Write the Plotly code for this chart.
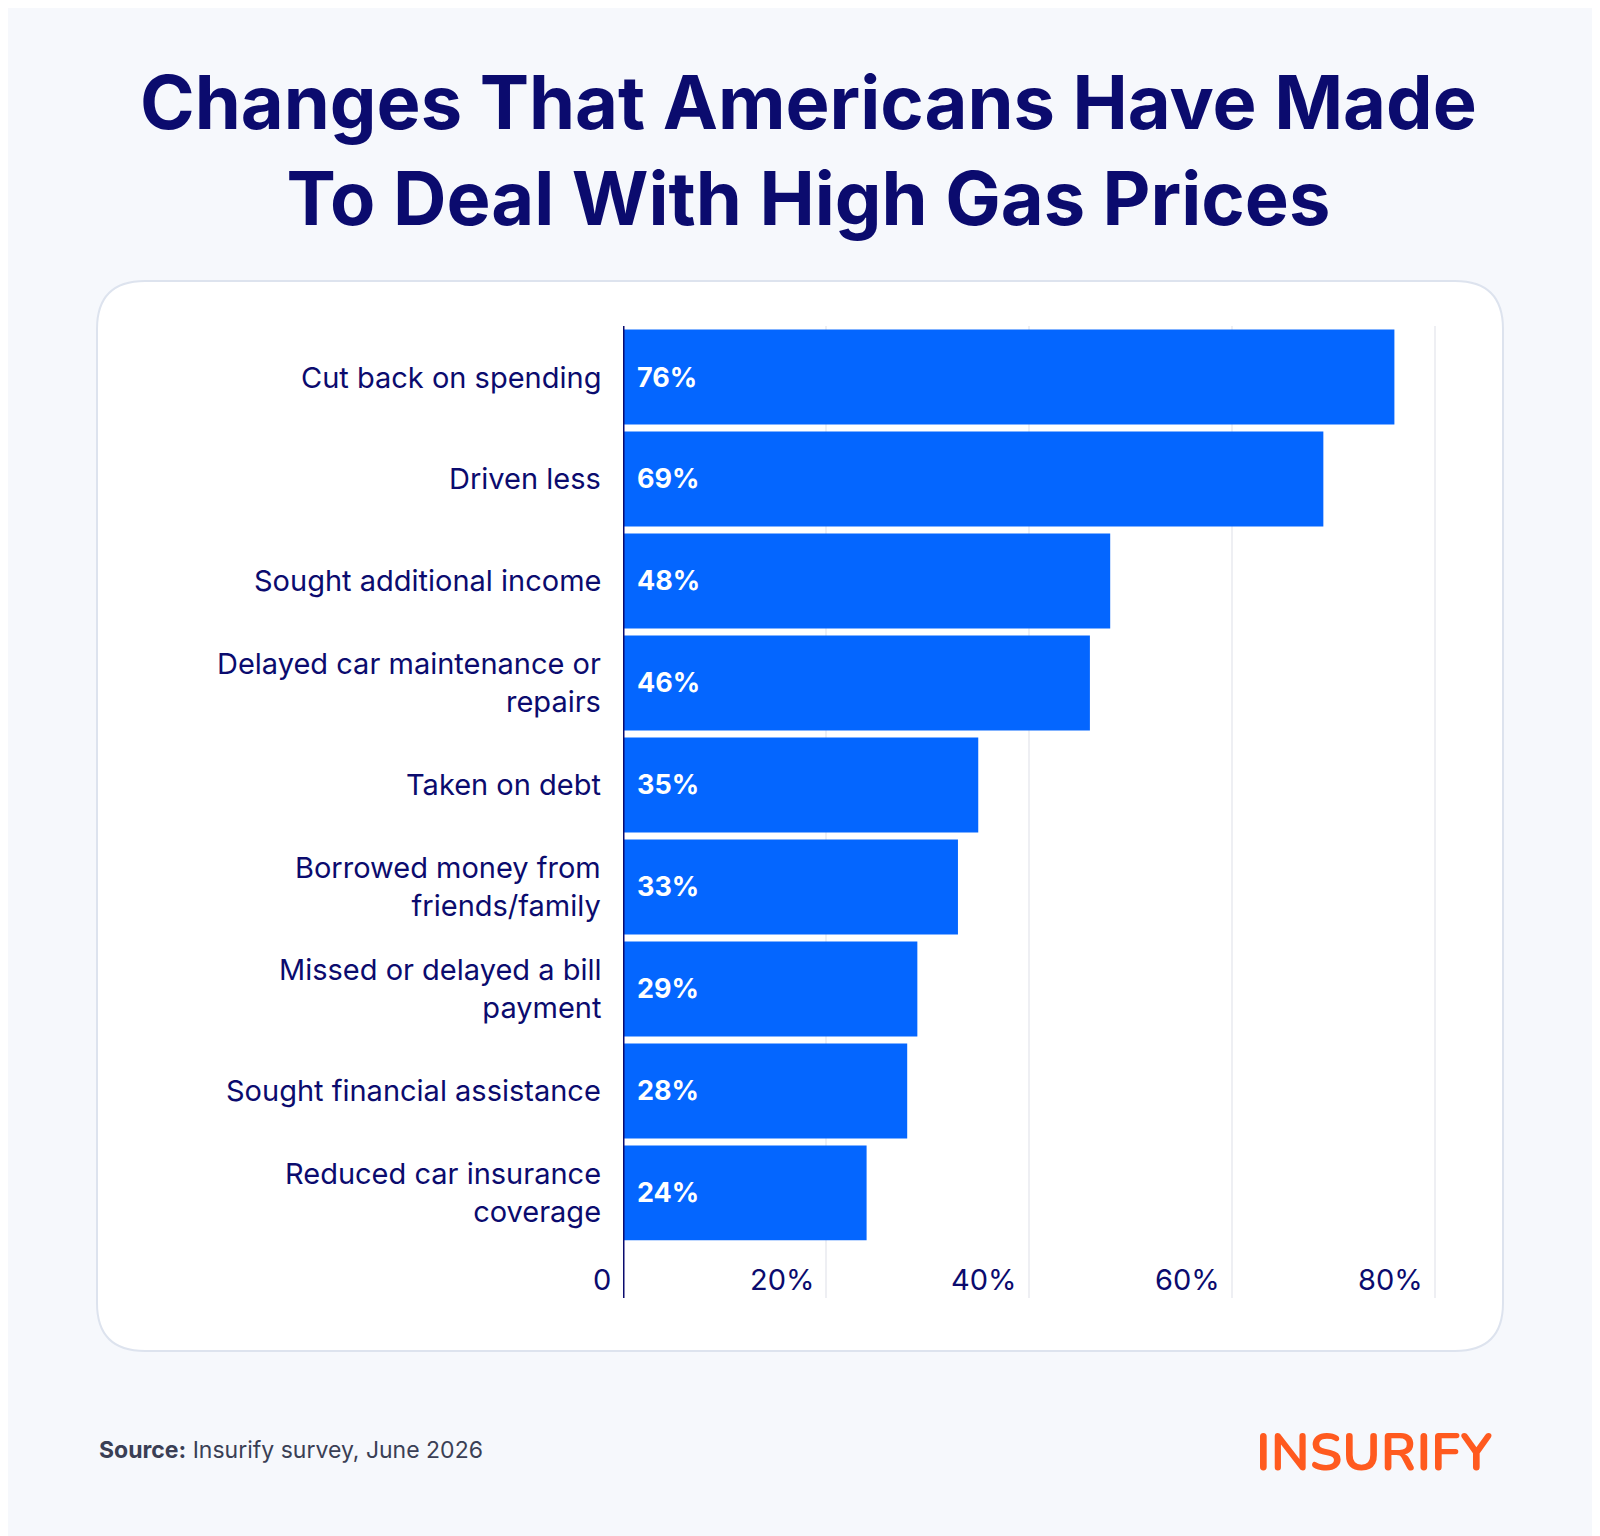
import plotly.graph_objects as go

categories = ["Cut back on spending", "Driven less", "Sought additional income",
              "Delayed car maintenance or<br>repairs", "Taken on debt",
              "Borrowed money from<br>friends/family", "Missed or delayed a bill<br>payment",
              "Sought financial assistance", "Reduced car insurance<br>coverage"]
values = [76, 69, 48, 46, 35, 33, 29, 28, 24]
xticks = [0, 20, 40, 60, 80]
xtick_labels = ["0", "20%", "40%", "60%", "80%"]

W, H = 1600, 1536
DX, DY = -8, -8
def px(x): return (x + DX) / W
def py(y): return 1 - (y + DY) / H

NAVY = "#0b0b6e"
FONT = "Inter"
x0px, x80px = 623 + DX, 1435 + DX
scale = (x80px - x0px) / 80
xmax = (1480 + DX - x0px) / scale

idx = list(range(len(categories)))
fig = go.Figure(go.Bar(
    x=values, y=idx, orientation="h", marker=dict(color="#0466ff", line_width=0),
    width=0.93, hoverinfo="skip"))

fig.update_layout(
    width=W, height=H, margin=dict(l=0, r=0, t=0, b=0),
    paper_bgcolor="#f6f8fc", plot_bgcolor="rgba(0,0,0,0)", showlegend=False,
    xaxis=dict(domain=[x0px / W, px(1480)], range=[0, xmax], showticklabels=False,
               showgrid=False, zeroline=False, ticks=""),
    yaxis=dict(domain=[py(1298), py(326)], range=[9.03, -0.5], showticklabels=False,
               showgrid=False, zeroline=False),
)

def rrect(x0, y0, x1, y1, r):
    return f"M {px(x0+r)},{py(y0)} L {px(x1-r)},{py(y0)} Q {px(x1)},{py(y0)} {px(x1)},{py(y0+r)} " \
           f"L {px(x1)},{py(y1-r)} Q {px(x1)},{py(y1)} {px(x1-r)},{py(y1)} L {px(x0+r)},{py(y1)} " \
           f"Q {px(x0)},{py(y1)} {px(x0)},{py(y1-r)} L {px(x0)},{py(y0+r)} Q {px(x0)},{py(y0)} {px(x0+r)},{py(y0)} Z"
shapes = [dict(type="path", xref="paper", yref="paper", layer="below",
               path=rrect(97, 281, 1503, 1351, 48), fillcolor="white",
               line=dict(color="#dde3ee", width=2))]
for t in xticks[1:]:
    shapes.append(dict(type="line", xref="x", yref="paper", x0=t, x1=t,
                       y0=py(1298), y1=py(326), line=dict(color="#e8eaef", width=1.5), layer="below"))
shapes.append(dict(type="line", xref="x", yref="paper", x0=0, x1=0,
                   y0=py(1298), y1=py(326), line=dict(color=NAVY, width=3)))
fig.update_layout(shapes=shapes)

ann = []
for i, (c, v) in enumerate(zip(categories, values)):
    ann.append(dict(x=px(603), y=i, xref="paper", yref="y", text=c, showarrow=False,
                    xanchor="right", yanchor="middle", align="right",
                    font=dict(size=29, color=NAVY, family=FONT)))
    ann.append(dict(x=0, y=i, xref="x", yref="y", text=f"{v}%", showarrow=False,
                    xanchor="left", xshift=12, yanchor="middle",
                    font=dict(size=27, color="white", family=FONT, weight="bold")))
for t, l in zip(xticks, xtick_labels):
    ann.append(dict(x=t, y=py(1279), xref="x", yref="paper", text=l, showarrow=False,
                    xanchor="right", xshift=-10, yanchor="middle",
                    font=dict(size=29, color=NAVY, family=FONT)))
ann.append(dict(x=0.5, y=py(150), xref="paper", yref="paper",
                text="Changes That Americans Have Made<br>To Deal With High Gas Prices",
                showarrow=False, xanchor="center", yanchor="middle",
                font=dict(size=74, color=NAVY, family=FONT, weight="bold")))
ann.append(dict(x=px(97), y=py(1450), xref="paper", yref="paper",
                text="<b>Source:</b> Insurify survey, June 2026", showarrow=False,
                xanchor="left", yanchor="middle", font=dict(size=23, color="#3a3f55", family=FONT)))
ann.append(dict(x=px(1494), y=py(1452), xref="paper", yref="paper", text="INSURIFY",
                showarrow=False, xanchor="right", yanchor="middle",
                font=dict(size=52, color="#ff5a1f", family="Nunito, Lato, Inter", weight="bold")))
fig.update_layout(annotations=ann)
fig.write_html("out.html")
